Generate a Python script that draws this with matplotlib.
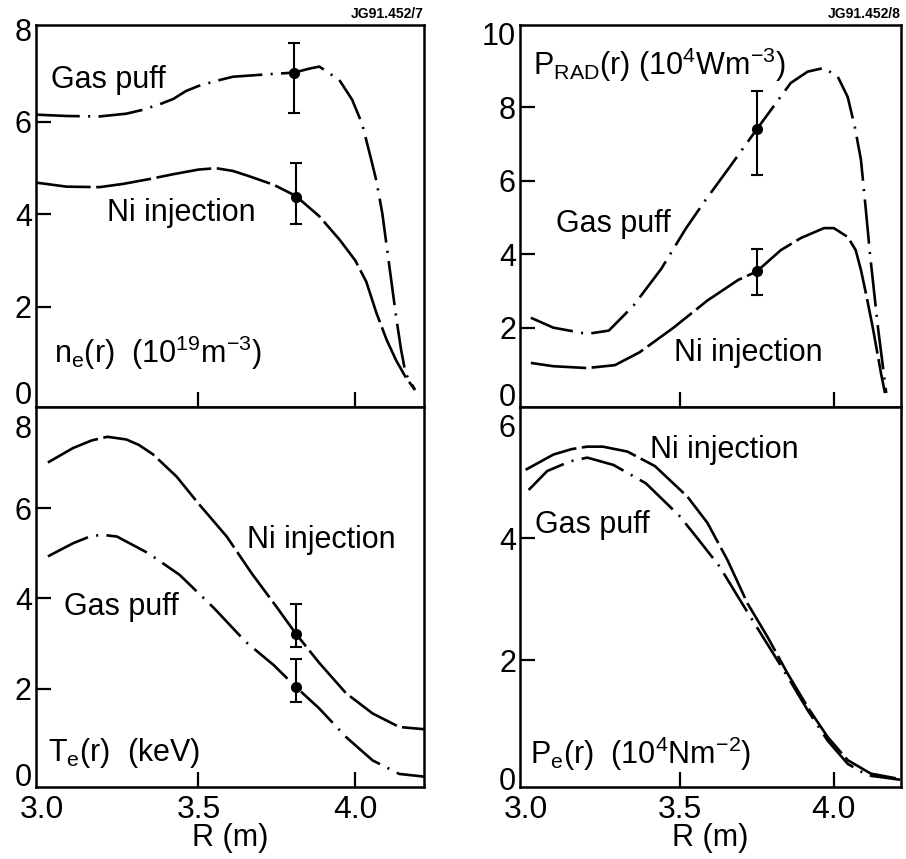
import numpy as np
import matplotlib
matplotlib.use('Agg')
import matplotlib.pyplot as plt
from matplotlib.transforms import ScaledTranslation

plt.rcParams['font.family'] = ['Liberation Sans', 'DejaVu Sans']
plt.rcParams['mathtext.default'] = 'regular'
plt.rcParams['lines.scale_dashes'] = False

# ---- n_e(r) ----
ne_gas_R = [2.98, 3.08, 3.185, 3.27, 3.32, 3.375, 3.42, 3.46, 3.5, 3.556, 3.61, 3.715,
            3.806, 3.85, 3.885, 3.949, 3.99, 4.022, 4.05, 4.067, 4.086, 4.108, 4.13,
            4.146, 4.16, 4.19]
ne_gas_v = [6.16, 6.13, 6.12, 6.18, 6.26, 6.38, 6.5, 6.67, 6.78, 6.89, 6.98, 7.03,
            7.07, 7.15, 7.2, 6.91, 6.48, 5.95, 5.2, 4.73, 4.02, 2.9, 1.78,
            1.06, 0.56, 0.2]
ne_ni_R = [2.98, 3.08, 3.185, 3.26, 3.34, 3.42, 3.5, 3.556, 3.61, 3.66, 3.74, 3.81,
           3.885, 3.95, 4.0, 4.035, 4.067, 4.1, 4.13, 4.16, 4.19]
ne_ni_v = [4.69, 4.6, 4.59, 4.66, 4.76, 4.87, 4.97, 5.0, 4.94, 4.83, 4.64, 4.4,
           3.96, 3.45, 3.0, 2.54, 1.87, 1.28, 0.84, 0.48, 0.2]
ne_err_R = [3.806, 3.81]
ne_err_v = [7.05, 4.38]
ne_err_lo = [6.2, 3.8]
ne_err_hi = [7.7, 5.12]

# ---- P_RAD(r) ----
prad_gas_R = [3.017, 3.09, 3.2, 3.27, 3.35, 3.44, 3.52, 3.58, 3.66, 3.75, 3.86, 3.915,
              3.968, 4.013, 4.045, 4.068, 4.088, 4.104, 4.117, 4.143, 4.17]
prad_gas_v = [2.27, 2.0, 1.83, 1.92, 2.6, 3.6, 4.7, 5.43, 6.35, 7.4, 8.66, 8.97,
              9.07, 8.83, 8.28, 7.47, 6.57, 5.2, 4.03, 2.02, 0.22]
prad_ni_R = [3.017, 3.09, 3.2, 3.29, 3.37, 3.48, 3.59, 3.69, 3.75, 3.828, 3.893, 3.968,
             4.0, 4.045, 4.071, 4.088, 4.104, 4.126, 4.153, 4.166]
prad_ni_v = [1.04, 0.95, 0.9, 0.98, 1.33, 2.0, 2.74, 3.3, 3.53, 4.11, 4.44, 4.71,
             4.71, 4.47, 4.11, 3.57, 2.94, 2.02, 0.76, 0.22]
prad_err_R = [3.75, 3.75]
prad_err_v = [7.4, 3.55]
prad_err_lo = [6.15, 2.9]
prad_err_hi = [8.45, 4.13]

# ---- T_e(r) ----
te_ni_R = [3.02, 3.1, 3.16, 3.21, 3.27, 3.31, 3.355, 3.43, 3.5, 3.59, 3.67, 3.75, 3.81,
           3.885, 3.97, 4.055, 4.14, 4.22]
te_ni_v = [7.01, 7.33, 7.5, 7.58, 7.52, 7.4, 7.19, 6.7, 6.1, 5.37, 4.55, 3.8, 3.22,
           2.57, 1.9, 1.45, 1.15, 1.1]
te_gas_R = [3.02, 3.1, 3.15, 3.19, 3.24, 3.34, 3.44, 3.55, 3.65, 3.74, 3.81, 3.885,
            3.97, 4.055, 4.14, 4.22]
te_gas_v = [4.93, 5.22, 5.36, 5.41, 5.37, 5.0, 4.52, 3.78, 3.04, 2.52, 2.04, 1.56,
            0.93, 0.41, 0.11, 0.05]
te_err_R = [3.81, 3.81]
te_err_v = [3.22, 2.04]
te_err_lo = [2.93, 1.7]
te_err_hi = [3.87, 2.65]

# ---- P_e(r) ----
pe_ni_R = [3.0, 3.09, 3.15, 3.2, 3.25, 3.33, 3.42, 3.525, 3.59, 3.655, 3.72, 3.785,
           3.85, 3.915, 3.98, 4.045, 4.12, 4.215]
pe_ni_v = [5.12, 5.37, 5.46, 5.5, 5.5, 5.42, 5.18, 4.68, 4.25, 3.64, 2.93, 2.38,
           1.78, 1.23, 0.74, 0.36, 0.14, 0.05]
pe_gas_R = [3.01, 3.07, 3.145, 3.2, 3.285, 3.39, 3.5, 3.565, 3.63, 3.695, 3.77, 3.85,
            3.915, 3.98, 4.045, 4.11, 4.215]
pe_gas_v = [4.79, 5.1, 5.26, 5.32, 5.2, 4.9, 4.36, 3.95, 3.53, 2.99, 2.38, 1.73,
            1.18, 0.68, 0.3, 0.11, 0.04]

gas_ls = (0, (32, 6, 1.5, 6))
ni_ls = (0, (40, 4))
lw = 1.9

fig = plt.figure(figsize=(9.06, 8.59), dpi=100)
ax_ne = fig.add_axes([0.0397, 0.5262, 0.428, 0.4447])
ax_te = fig.add_axes([0.0397, 0.0838, 0.428, 0.4424])
ax_pr = fig.add_axes([0.574, 0.5262, 0.4205, 0.4447])
ax_pe = fig.add_axes([0.574, 0.0838, 0.4205, 0.4424])

def errpts(ax, R, v, lo, hi):
    v = np.array(v)
    yerr = [v - np.array(lo), np.array(hi) - v]
    ax.errorbar(R, v, yerr=yerr, fmt='o', color='black', ms=7, capsize=4,
                elinewidth=1.5, capthick=1.5)

ax_ne.plot(ne_gas_R, ne_gas_v, color='black', lw=lw, ls=gas_ls)
ax_ne.plot(ne_ni_R, ne_ni_v, color='black', lw=lw, ls=ni_ls)
errpts(ax_ne, ne_err_R, ne_err_v, ne_err_lo, ne_err_hi)
ax_ne.set_ylim(-0.17, 8.1)
ax_ne.set_yticks([0, 2, 4, 6, 8])
ax_ne.text(3.03, 6.92, 'Gas puff', fontsize=22, va='center')
ax_ne.text(3.21, 4.04, 'Ni injection', fontsize=22, va='center')
ax_ne.text(3.04, 1.0, r'n$_e$(r)  (10$^{19}$m$^{-3}$)', fontsize=22, va='center')
ax_ne.text(1.0, 1.01, 'JG91.452/7', transform=ax_ne.transAxes, ha='right',
           va='bottom', fontsize=10, fontweight='bold')

ax_pr.plot(prad_gas_R, prad_gas_v, color='black', lw=lw, ls=gas_ls)
ax_pr.plot(prad_ni_R, prad_ni_v, color='black', lw=lw, ls=ni_ls)
errpts(ax_pr, prad_err_R, prad_err_v, prad_err_lo, prad_err_hi)
ax_pr.set_ylim(-0.16, 10.24)
ax_pr.set_yticks([0, 2, 4, 6, 8, 10])
ax_pr.text(3.023, 9.15, r'P$_{RAD}$(r) (10$^4$Wm$^{-3}$)', fontsize=22, va='center')
ax_pr.text(3.1, 4.83, 'Gas puff', fontsize=22, va='center')
ax_pr.text(3.48, 1.32, 'Ni injection', fontsize=22, va='center')
ax_pr.text(1.0, 1.01, 'JG91.452/8', transform=ax_pr.transAxes, ha='right',
           va='bottom', fontsize=10, fontweight='bold')

ax_te.plot(te_ni_R, te_ni_v, color='black', lw=lw, ls=ni_ls)
ax_te.plot(te_gas_R, te_gas_v, color='black', lw=lw, ls=gas_ls)
errpts(ax_te, te_err_R, te_err_v, te_err_lo, te_err_hi)
ax_te.set_ylim(-0.18, 8.24)
ax_te.set_yticks([0, 2, 4, 6, 8])
ax_te.text(3.655, 5.3, 'Ni injection', fontsize=22, va='center')
ax_te.text(3.07, 3.81, 'Gas puff', fontsize=22, va='center')
ax_te.text(3.02, 0.58, r'T$_e$(r)  (keV)', fontsize=22, va='center')

ax_pe.plot(pe_ni_R, pe_ni_v, color='black', lw=lw, ls=ni_ls)
ax_pe.plot(pe_gas_R, pe_gas_v, color='black', lw=lw, ls=gas_ls)
ax_pe.set_ylim(-0.08, 6.15)
ax_pe.set_yticks([0, 2, 4, 6])
ax_pe.text(3.405, 5.45, 'Ni injection', fontsize=22, va='center')
ax_pe.text(3.03, 4.22, 'Gas puff', fontsize=22, va='center')
ax_pe.text(3.015, 0.47, r'P$_e$(r)  (10$^4$Nm$^{-2}$)', fontsize=22, va='center')

for ax in (ax_ne, ax_te, ax_pr, ax_pe):
    ax.set_xlim(2.982, 4.218)
    ax.set_xticks([3.0, 3.5, 4.0])
    ax.tick_params(direction='in', length=11, width=1.6, labelsize=22, pad=3)
    ax.tick_params(axis='x', pad=6)
    for s in ax.spines.values():
        s.set_linewidth(1.8)

for ax in (ax_ne, ax_pr):
    ax.tick_params(labelbottom=False)

for ax in (ax_te, ax_pe):
    ax.set_xticklabels(['3.0', '3.5', '4.0'], fontsize=23)
    ax.set_xlabel('R (m)', fontsize=22, labelpad=-2)

# no tick marks hugging the frame (0, top value, 3.0)
fig.canvas.draw()
for ax in (ax_ne, ax_te, ax_pr, ax_pe):
    yt = ax.yaxis.get_major_ticks()
    yt[0].tick1line.set_visible(False)
    yt[-1].tick1line.set_visible(False)
    ax.xaxis.get_major_ticks()[0].tick1line.set_visible(False)

# nudge the labels where the panels meet so they don't collide
def shift(lab, dy_px):
    lab.set_transform(lab.get_transform() +
                      ScaledTranslation(0, dy_px / 100, fig.dpi_scale_trans))

for ax in (ax_ne, ax_pr):
    shift(ax.get_yticklabels()[0], 7)
for ax in (ax_te, ax_pe):
    shift(ax.get_yticklabels()[-1], -9)
    shift(ax.get_yticklabels()[0], 4)

fig.savefig('out.png', dpi=100)
